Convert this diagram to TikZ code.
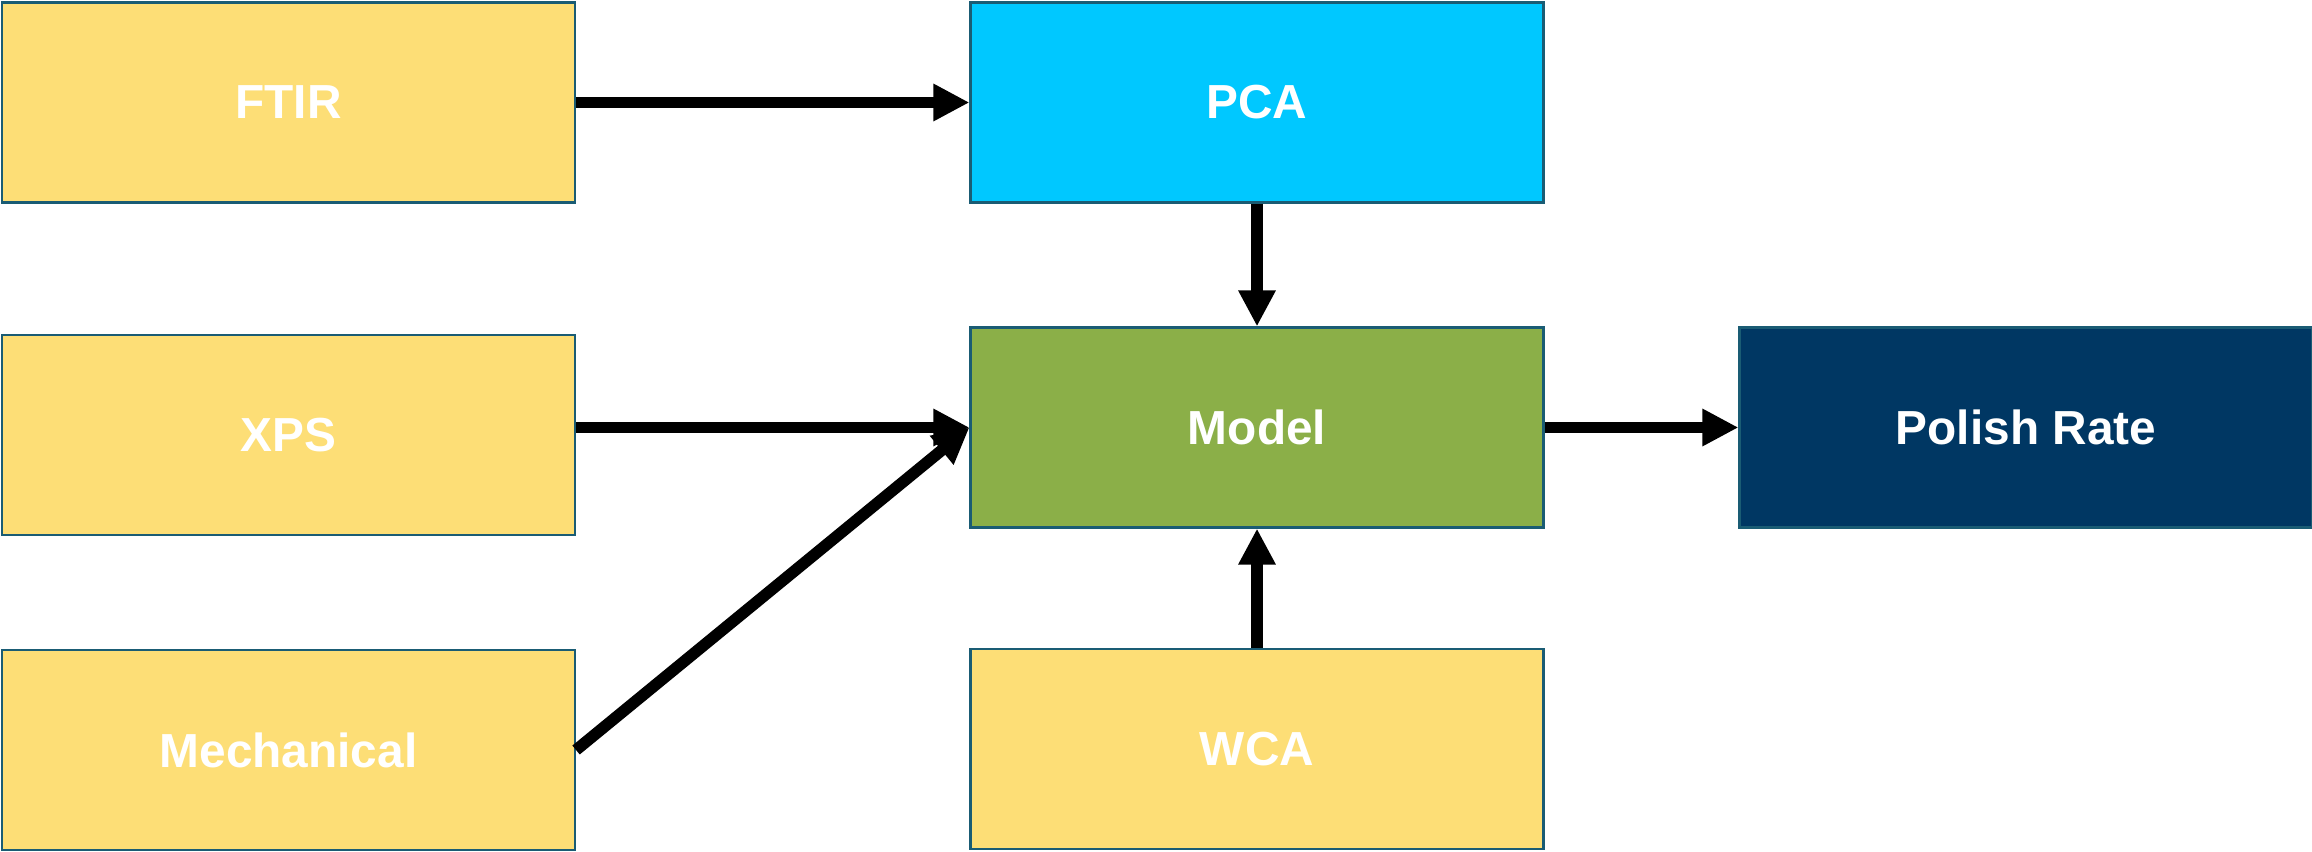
\documentclass[tikz,border=0pt]{standalone}
\usepackage{fontspec}
\setmainfont{Liberation Sans}
\usetikzlibrary{arrows.meta}
\definecolor{boxyellow}{HTML}{FDDE76}
\definecolor{boxcyan}{HTML}{00C8FF}
\definecolor{boxgreen}{HTML}{8BAF48}
\definecolor{boxnavy}{HTML}{003763}
\definecolor{boxline}{HTML}{1A5C74}
\begin{document}
\begin{tikzpicture}[
  block/.style={draw=boxline, line width=0.6pt, minimum width=5.73cm, minimum height=2.0cm,
    inner sep=0pt, text=white, font=\bfseries\fontsize{13.6}{16}\selectfont},
  arr/.style={draw=black, line width=3.3pt, -{Triangle[length=3.6mm, width=3.5mm]}}
]
\useasboundingbox (0,0) rectangle (23.12,-8.52);
\node[block, fill=boxyellow] (ftir) at (2.885,-1.025) {FTIR};
\node[block, fill=boxyellow] (xps) at (2.885,-4.35) {XPS};
\node[block, fill=boxyellow] (mech) at (2.885,-7.50) {Mechanical};
\node[block, fill=boxcyan] (pca) at (12.57,-1.025) {PCA};
\node[block, fill=boxgreen] (model) at (12.57,-4.275) {Model};
\node[block, fill=boxyellow] (wca) at (12.57,-7.49) {WCA};
\node[block, fill=boxnavy] (polish) at (20.26,-4.275) {Polish Rate};
\draw[arr] (ftir.east) -- (pca.west);
\draw[arr] (pca.south) -- (model.north);
\draw[arr] (xps.east |- model.west) -- (model.west);
\draw[arr] (mech.east) -- (model.west);
\draw[arr] (wca.north) -- (model.south);
\draw[arr] (model.east) -- (polish.west);
\end{tikzpicture}
\end{document}
